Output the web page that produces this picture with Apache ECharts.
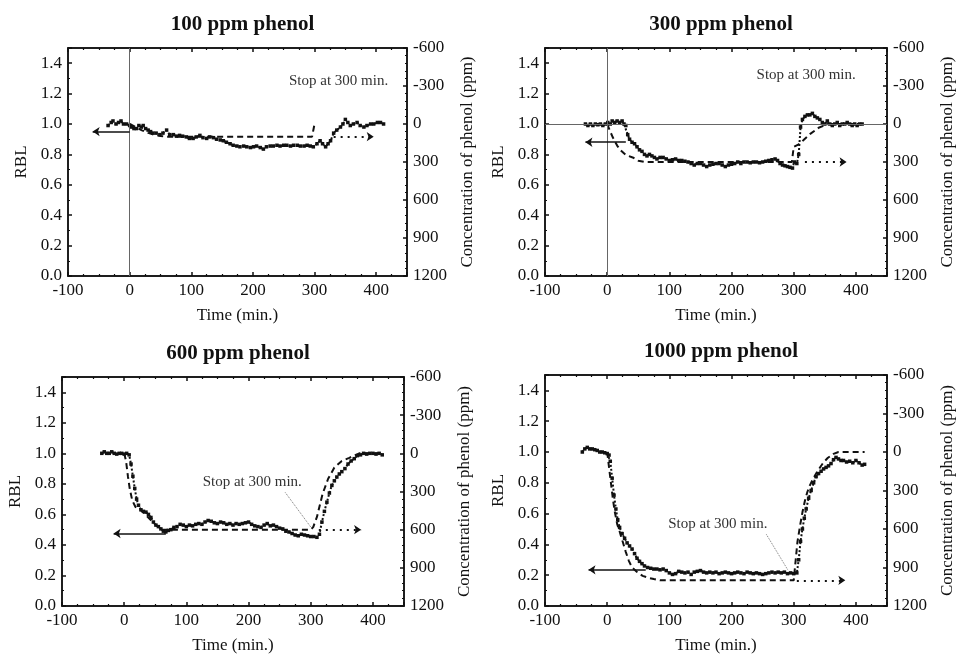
<!DOCTYPE html>
<html lang="en">
<head>
    <meta charset="UTF-8">
    <title>RBL vs phenol</title>
    <script src="https://cdn.jsdelivr.net/npm/echarts@6.0.0/dist/echarts.min.js"></script>
    <style>
        body { margin: 0; background: #fff; }
    </style>
</head>
<body>
    <div id="chart" style="width: 959px; height: 658px;"></div>
    <script type="text/javascript">
        // panel titles
        const titles = ['100 ppm phenol', '300 ppm phenol', '600 ppm phenol', '1000 ppm phenol'];

        // RBL readings [time (min), RBL]
        const rbl100 = [[-35,0.99],[-30,1.01],[-27,1.02],[-22,1.0],[-18,1.01],[-14,1.02],[-10,1.0],[-5,1.0],[0,0.99],[3,0.98],[7,0.97],[11,0.97],[15,0.99],[19,0.98],[22,0.99],[26,0.97],[30,0.96],[34,0.95],[38,0.94],[43,0.94],[49,0.93],[54,0.94],[60,0.96],[65,0.93],[71,0.93],[76,0.92],[81,0.925],[86,0.92],[92,0.915],[97,0.905],[103,0.905],[108,0.915],[114,0.925],[119,0.91],[125,0.905],[130,0.915],[136,0.91],[141,0.9],[147,0.895],[152,0.89],[157,0.88],[163,0.87],[168,0.86],[174,0.855],[179,0.85],[185,0.855],[190,0.85],[196,0.845],[201,0.85],[206,0.855],[212,0.845],[217,0.835],[222,0.85],[228,0.855],[233,0.855],[239,0.86],[244,0.855],[250,0.86],[255,0.86],[261,0.855],[266,0.86],[272,0.86],[277,0.855],[283,0.855],[288,0.86],[293,0.855],[298,0.85],[304,0.87],[309,0.89],[313,0.87],[318,0.85],[322,0.87],[326,0.89],[331,0.94],[336,0.96],[342,0.98],[346,1.0],[350,1.03],[354,1.01],[358,0.99],[363,1.0],[369,1.01],[374,0.99],[380,0.98],[385,0.99],[391,1.0],[396,1.0],[402,1.01],[407,1.01],[412,1.0]];
        const rbl300 = [[-35,1.0],[-31,0.99],[-27,1.0],[-23,0.99],[-19,1.0],[-15,0.995],[-11,1.0],[-7,0.99],[-3,1.0],[1,1.01],[5,1.0],[8,1.02],[12,1.01],[16,1.02],[20,1.01],[24,1.02],[27,1.0],[30,0.99],[33,0.93],[36,0.9],[40,0.88],[44,0.87],[48,0.85],[52,0.83],[56,0.82],[60,0.8],[64,0.79],[68,0.8],[72,0.79],[76,0.78],[80,0.77],[85,0.78],[90,0.78],[95,0.77],[100,0.76],[105,0.765],[110,0.77],[115,0.76],[120,0.76],[125,0.755],[130,0.75],[135,0.74],[140,0.73],[145,0.74],[150,0.74],[155,0.73],[160,0.72],[165,0.73],[170,0.735],[175,0.74],[180,0.74],[185,0.73],[190,0.72],[195,0.73],[200,0.735],[205,0.74],[210,0.75],[215,0.74],[220,0.75],[225,0.75],[230,0.745],[235,0.75],[240,0.75],[245,0.745],[250,0.75],[255,0.755],[260,0.76],[265,0.765],[270,0.77],[274,0.76],[278,0.74],[282,0.73],[286,0.725],[290,0.72],[294,0.715],[298,0.71],[301,0.75],[305,0.74],[308,0.8],[311,0.98],[314,1.03],[318,1.05],[322,1.06],[326,1.06],[330,1.07],[334,1.05],[338,1.04],[342,1.03],[346,1.01],[350,1.0],[354,1.02],[358,1.0],[362,0.99],[366,1.0],[370,1.01],[374,0.99],[378,1.0],[382,1.0],[386,1.01],[390,1.0],[394,0.99],[398,1.0],[402,0.99],[406,1.0],[410,1.0]];
        const rbl600 = [[-36,1.0],[-32,1.01],[-28,1.0],[-24,1.0],[-20,1.01],[-16,1.0],[-12,0.995],[-8,1.0],[-4,1.0],[0,0.995],[4,1.0],[8,0.99],[11,0.93],[14,0.85],[17,0.77],[20,0.7],[23,0.66],[27,0.63],[31,0.62],[35,0.615],[39,0.6],[43,0.58],[47,0.55],[51,0.53],[55,0.52],[59,0.505],[63,0.49],[67,0.485],[71,0.495],[75,0.5],[80,0.515],[85,0.52],[90,0.535],[95,0.53],[100,0.52],[105,0.53],[110,0.525],[115,0.535],[120,0.54],[125,0.535],[130,0.55],[135,0.56],[140,0.555],[145,0.545],[150,0.54],[155,0.55],[160,0.545],[165,0.535],[170,0.54],[175,0.53],[180,0.54],[185,0.535],[190,0.54],[195,0.545],[200,0.55],[205,0.535],[210,0.525],[215,0.52],[220,0.515],[225,0.53],[230,0.54],[235,0.525],[240,0.53],[245,0.52],[250,0.51],[255,0.505],[260,0.49],[265,0.485],[270,0.475],[275,0.465],[280,0.46],[285,0.47],[290,0.465],[295,0.46],[300,0.455],[305,0.455],[310,0.45],[314,0.47],[318,0.55],[322,0.62],[326,0.68],[330,0.74],[334,0.79],[338,0.82],[342,0.845],[346,0.865],[350,0.88],[355,0.9],[360,0.93],[365,0.95],[370,0.965],[375,0.985],[380,0.99],[385,1.0],[390,0.995],[395,1.0],[400,1.0],[405,0.995],[410,1.0],[415,0.99]];
        const rbl1000 = [[-40,1.0],[-36,1.02],[-32,1.03],[-28,1.02],[-24,1.02],[-20,1.015],[-16,1.01],[-12,1.0],[-8,1.0],[-4,0.995],[0,0.99],[3,0.98],[5,0.94],[8,0.83],[11,0.72],[14,0.63],[17,0.56],[20,0.51],[24,0.47],[28,0.44],[32,0.41],[36,0.39],[40,0.37],[44,0.34],[48,0.31],[52,0.29],[56,0.275],[60,0.26],[65,0.25],[70,0.245],[75,0.24],[80,0.24],[85,0.235],[90,0.24],[95,0.23],[100,0.215],[105,0.205],[110,0.21],[115,0.225],[120,0.22],[125,0.215],[130,0.22],[135,0.205],[140,0.22],[145,0.225],[150,0.23],[155,0.22],[160,0.215],[165,0.22],[170,0.215],[175,0.22],[180,0.21],[185,0.215],[190,0.22],[195,0.215],[200,0.21],[205,0.215],[210,0.22],[215,0.215],[220,0.21],[225,0.22],[230,0.215],[235,0.21],[240,0.215],[245,0.21],[250,0.205],[255,0.21],[260,0.215],[265,0.22],[270,0.215],[275,0.22],[280,0.215],[285,0.22],[290,0.21],[295,0.215],[300,0.21],[305,0.215],[308,0.3],[311,0.42],[314,0.5],[317,0.57],[320,0.63],[324,0.7],[328,0.75],[332,0.8],[336,0.84],[340,0.86],[344,0.875],[348,0.89],[352,0.9],[356,0.91],[360,0.925],[364,0.95],[368,0.965],[372,0.955],[376,0.945],[380,0.945],[385,0.935],[390,0.94],[395,0.93],[400,0.945],[405,0.93],[410,0.915],[414,0.92]];

        // phenol concentration [time (min), ppm]
        const conc100 = [[0,0],[10,25],[20,50],[30,70],[40,85],[50,95],[60,100],[296,100],[300,0]];
        const conc300 = [[0,0],[5,60],[9,105],[16,170],[22,210],[30,245],[41,264],[50,290],[60,300],[297,300],[300,180],[308,160],[315,130],[326,80],[340,30],[355,0],[410,0]];
        const conc600 = [[0,0],[3,60],[6,180],[9,280],[13,370],[18,420],[25,440],[32,470],[40,510],[48,550],[56,585],[62,600],[300,600],[304,580],[310,500],[319,320],[328,200],[338,112],[350,60],[362,36],[378,0],[415,0]];
        const conc1000 = [[0,0],[3,120],[6,240],[9,360],[12,460],[16,560],[20,620],[25,700],[30,780],[35,850],[40,900],[48,935],[57,965],[66,980],[75,990],[85,1000],[300,1000],[303,850],[306,700],[310,580],[314,470],[318,380],[322,310],[326,260],[331,210],[337,160],[343,115],[348,80],[355,45],[364,15],[372,0],[414,0]];

        // axis indicator arrows: left one in RBL, right one in ppm
        const leftArrows = [[[-60,0.95],[0,0.95]], [[-35,0.88],[30,0.88]], [[-17,0.475],[67,0.475]], [[-30,0.235],[62,0.235]]];
        const rightArrows = [[[331,100],[396,100]], [[318,300],[385,300]], [[313,600],[381,600]], [[305,1000],[383,1000]]];

        // "Stop at 300 min." label position and optional leader line (RBL coords)
        const stopLabels = [[339,1.28], [320,1.32], [206,0.81], [178,0.53]];
        const stopLeaders = [null, null, [[259,0.744],[301,0.512]], [[256,0.465],[291,0.231]]];

        const rblData = [rbl100, rbl300, rbl600, rbl1000];
        const concData = [conc100, conc300, conc600, conc1000];

        const grids = [
            { left: 68, top: 48, width: 339, height: 228 },
            { left: 545, top: 48, width: 342, height: 228 },
            { left: 62, top: 377, width: 342, height: 229 },
            { left: 545, top: 375, width: 342, height: 231 }
        ];

        const font = 'Liberation Serif';
        const ink = '#111';
        const axisLine = { show: true, onZero: false, lineStyle: { color: ink, width: 1.5 } };
        const tick = { show: true, inside: true, length: 4, lineStyle: { color: ink, width: 1.5 } };
        const minor = (n) => ({ show: true, splitNumber: n, length: 2, lineStyle: { color: ink, width: 1.2 } });
        const label = { color: ink, fontSize: 17, fontFamily: font };

        let xAxis = [], yAxis = [], series = [], title = [];

        grids.forEach((g, k) => {
            title.push({
                text: titles[k],
                left: g.left + g.width / 2,
                top: g.top - 39,
                textAlign: 'center',
                textStyle: { fontFamily: font, fontSize: 21, fontWeight: 'bold', color: ink }
            });
            xAxis.push({
                type: 'value', gridIndex: k, min: -100, max: 450, interval: 100,
                name: 'Time (min.)', nameLocation: 'middle', nameGap: 31,
                nameTextStyle: { fontFamily: font, fontSize: 17, color: ink },
                axisLine, axisTick: tick, minorTick: minor(4), splitLine: { show: false },
                axisLabel: { ...label, margin: 6, showMaxLabel: false }
            });
            xAxis.push({
                type: 'value', gridIndex: k, position: 'top', min: -100, max: 450, interval: 100,
                axisLine, axisTick: tick, minorTick: minor(4), splitLine: { show: false },
                axisLabel: { show: false }
            });
            yAxis.push({
                type: 'value', gridIndex: k, min: 0, max: 1.5, interval: 0.2,
                name: 'RBL', nameLocation: 'middle', nameGap: 38,
                nameTextStyle: { fontFamily: font, fontSize: 17, color: ink },
                axisLine, axisTick: tick, minorTick: minor(2), splitLine: { show: false },
                axisLabel: { ...label, margin: 6, showMaxLabel: false, formatter: v => v.toFixed(1) }
            });
            yAxis.push({
                type: 'value', gridIndex: k, position: 'right', min: -600, max: 1200, interval: 300, inverse: true,
                name: 'Concentration of phenol (ppm)', nameLocation: 'middle', nameGap: 52,
                nameTextStyle: { fontFamily: font, fontSize: 17, color: ink },
                axisLine, axisTick: tick, minorTick: minor(5), splitLine: { show: false },
                axisLabel: { ...label, margin: 6, formatter: v => String(v) }
            });

            const refLines = [];
            if (k < 2) refLines.push({ xAxis: 0, lineStyle: { color: '#666', width: 1, type: 'solid' } });
            if (k === 1) refLines.push({ yAxis: 1.0, lineStyle: { color: '#666', width: 1, type: 'solid' } });
            const la = leftArrows[k];
            refLines.push([
                { coord: la[0], symbol: 'arrow', symbolSize: 7, lineStyle: { color: ink, width: 1.5, type: 'solid' } },
                { coord: la[1], symbol: 'none' }
            ]);
            if (stopLeaders[k]) {
                refLines.push([
                    { coord: stopLeaders[k][0], lineStyle: { color: '#777', width: 1, type: 'dotted' } },
                    { coord: stopLeaders[k][1] }
                ]);
            }

            series.push({
                type: 'line', xAxisIndex: 2 * k, yAxisIndex: 2 * k,
                data: rblData[k],
                symbol: 'rect', symbolSize: 3.5, showAllSymbol: true,
                lineStyle: { color: ink, width: 2, type: [2, 2] }, itemStyle: { color: ink },
                z: 3,
                markLine: {
                    silent: true, symbol: 'none', animation: false,
                    label: { show: false },
                    data: refLines
                },
                markPoint: {
                    silent: true, animation: false,
                    symbol: 'rect', symbolSize: 1, itemStyle: { color: 'rgba(0,0,0,0)' },
                    label: { show: true, position: 'inside', formatter: 'Stop at 300 min.', color: '#333', fontSize: 15, fontFamily: font },
                    data: [{ coord: stopLabels[k] }]
                }
            });

            const ra = rightArrows[k];
            series.push({
                type: 'line', xAxisIndex: 2 * k, yAxisIndex: 2 * k + 1,
                data: concData[k],
                symbol: 'none',
                lineStyle: { color: ink, width: 2, type: [6, 4] },
                z: 2,
                markLine: {
                    silent: true, symbol: 'none', animation: false,
                    label: { show: false },
                    data: [[
                        { coord: ra[0], symbol: 'none', lineStyle: { color: ink, width: 2, type: [2, 5] } },
                        { coord: ra[1], symbol: 'arrow', symbolSize: 7 }
                    ]]
                }
            });
        });

        let chart = echarts.init(document.getElementById('chart'), null, { renderer: 'canvas' });
        chart.setOption({
            animation: false,
            textStyle: { fontFamily: font },
            title,
            grid: grids.map(g => ({ ...g, show: true, borderColor: ink, borderWidth: 1.5, backgroundColor: 'transparent' })),
            xAxis,
            yAxis,
            series
        });
    </script>
</body>
</html>
